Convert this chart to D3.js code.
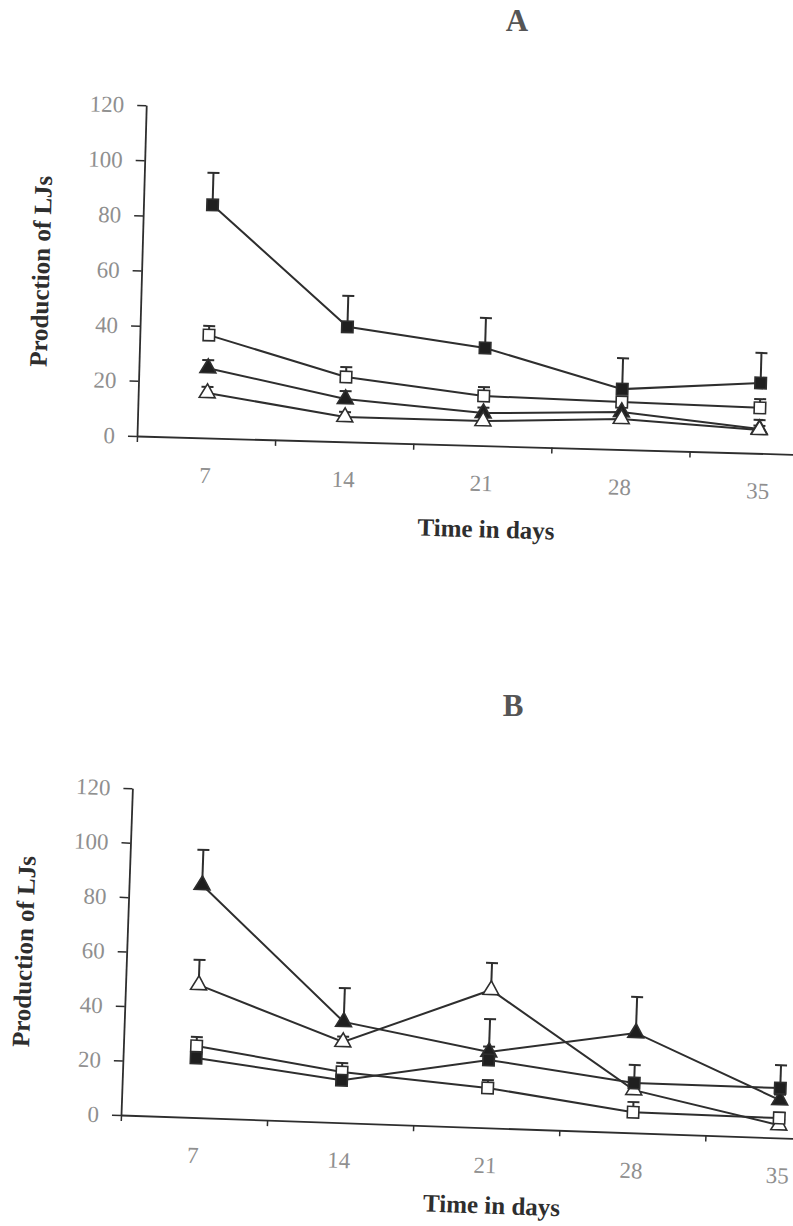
<!DOCTYPE html>
<html>
<head>
<meta charset="utf-8">
<script src="https://cdn.jsdelivr.net/npm/d3@7"></script>
<style>
  html, body { margin: 0; padding: 0; background: #ffffff; }
  svg { display: block; }
</style>
</head>
<body>
<svg id="chart" width="793" height="1226"></svg>
<script>
// ---------------- DATA ----------------
const days = [7, 14, 21, 28, 35];
const yTickValues = [0, 20, 40, 60, 80, 100, 120];

// Panel A
const aFilledSquare     = [84.5, 41.7, 35.4, 21.9, 25.5];
const aFilledSquareErr  = [11.6, 11.2, 10.9, 11.2, 10.9];
const aOpenSquare       = [37.3, 23.5, 18.0, 17.2, 16.5];
const aOpenSquareErr    = [3.3, 3.6, 3.2, 2.0, 3.2];
const aFilledTriangle   = [25.3, 15.5, 11.8, 13.6, 8.8];
const aFilledTriangleErr= [2.9, 2.9, 2.0, 2.0, 3.3];
const aOpenTriangle     = [16.3, 9.0, 8.9, 11.1, 8.5];
const aOpenTriangleErr  = [2.2, 1.8, 1.5, 1.5, 1.5];

// Panel B
const bFilledTriangle   = [85.4, 37.0, 27.8, 36.7, 13.9];
const bFilledTriangleErr= [12.9, 12.4, 2.0, 13.2, 2.0];
const bOpenTriangle     = [48.7, 29.6, 50.6, 15.7, 4.7];
const bOpenTriangleErr  = [9.2, 2.0, 9.9, 2.0, 2.0];
const bOpenSquare       = [26.3, 18.6, 14.6, 7.6, 7.3];
const bOpenSquareErr    = [3.3, 3.3, 2.9, 3.7, 2.0];
const bFilledSquare     = [21.9, 15.6, 24.9, 18.3, 18.3];
const bFilledSquareErr  = [1.5, 1.5, 15.0, 6.6, 8.4];

const panelTitles = ["A", "B"];
const xAxisTitle = "Time in days";
const yAxisTitles = ["Production of LJs", "Production of LJs"];

// ---------------- DRAW ----------------
const svg = d3.select("#chart");
svg.append("rect").attr("width", 793).attr("height", 1226).attr("fill", "#ffffff");

const ink = "#2e2e2e";
const tickInk = "#8f8f8f";
const serif = "'Liberation Serif', 'Times New Roman', serif";

function drawPanel(cfg) {
  // title (absolute)
  svg.append("text")
    .attr("x", cfg.titleX).attr("y", cfg.titleY)
    .attr("text-anchor", "middle")
    .attr("font-family", serif).attr("font-weight", "bold")
    .attr("font-size", 31).attr("fill", "#555")
    .text(cfg.title);

  const g = svg.append("g")
    .attr("transform", `translate(${cfg.ox},${cfg.oy}) rotate(${cfg.angle})`);

  const x = d3.scaleBand().domain(days).range([0, cfg.w]).padding(0);
  const xb = d3.scaleLinear().domain([3.5, 38.5]).range([0, cfg.w]);
  const y = d3.scaleLinear().domain([0, 120]).range([0, -cfg.h]);
  const cx = d => x(d) + x.bandwidth() / 2;

  // y axis
  const yAxis = g.append("g")
    .call(d3.axisLeft(y).tickValues(yTickValues).tickSize(9).tickSizeOuter(0).tickPadding(13));
  yAxis.select(".domain").attr("stroke", ink).attr("stroke-width", 1.8);
  yAxis.selectAll(".tick line").attr("stroke", ink).attr("stroke-width", 1.5);
  yAxis.selectAll(".tick text")
    .attr("font-family", serif).attr("font-size", 23).attr("fill", tickInk);

  // x axis: boundary ticks
  const xTickAxis = g.append("g")
    .call(d3.axisBottom(xb).tickValues([3.5, 10.5, 17.5, 24.5, 31.5, 38.5]).tickSize(6).tickSizeOuter(0).tickFormat(""));
  xTickAxis.select(".domain").attr("stroke", ink).attr("stroke-width", 1.8);
  xTickAxis.selectAll(".tick line").attr("stroke", ink).attr("stroke-width", 1.5);

  // x axis: category labels
  const xLab = g.append("g")
    .call(d3.axisBottom(x).tickSize(0).tickPadding(29));
  xLab.select(".domain").remove();
  xLab.selectAll(".tick text")
    .attr("font-family", serif).attr("font-size", 23).attr("fill", tickInk);

  // axis titles
  g.append("text")
    .attr("x", cfg.w / 2 + cfg.xtDx).attr("y", cfg.xtY)
    .attr("text-anchor", "middle").attr("dominant-baseline", "middle")
    .attr("font-family", serif).attr("font-weight", "bold")
    .attr("font-size", 25).attr("fill", ink)
    .text(xAxisTitle);

  g.append("text")
    .attr("transform", `translate(${cfg.ytX},${cfg.ytY}) rotate(-90)`)
    .attr("text-anchor", "middle").attr("dominant-baseline", "middle")
    .attr("font-family", serif).attr("font-weight", "bold")
    .attr("font-size", 25).attr("fill", ink)
    .text(cfg.yTitle);

  const line = d3.line().x((v, i) => cx(days[i])).y(v => y(v));

  // lines
  cfg.series.forEach(s => {
    g.append("path").datum(s.values)
      .attr("d", line).attr("fill", "none")
      .attr("stroke", ink).attr("stroke-width", 2);
  });

  // error bars (upper only)
  cfg.series.forEach(s => {
    const eb = g.append("g");
    s.values.forEach((v, i) => {
      const xx = cx(days[i]);
      eb.append("line")
        .attr("x1", xx).attr("x2", xx)
        .attr("y1", y(v)).attr("y2", y(v + s.err[i]))
        .attr("stroke", ink).attr("stroke-width", 2);
      eb.append("line")
        .attr("x1", xx - 6).attr("x2", xx + 6)
        .attr("y1", y(v + s.err[i])).attr("y2", y(v + s.err[i]))
        .attr("stroke", ink).attr("stroke-width", 2);
    });
  });

  // markers
  cfg.series.forEach(s => {
    const sym = d3.symbol().type(s.shape === "square" ? d3.symbolSquare : d3.symbolTriangle)
      .size(s.shape === "square" ? 130 : 110);
    g.append("g").selectAll("path")
      .data(s.values).join("path")
      .attr("transform", (v, i) => `translate(${cx(days[i])},${y(v)})`)
      .attr("d", sym)
      .attr("fill", s.filled ? "#1f1f1f" : "#ffffff")
      .attr("stroke", ink).attr("stroke-width", 1.6);
  });
}

drawPanel({
  title: panelTitles[0], titleX: 517, titleY: 31,
  ox: 137, oy: 436, angle: 1.6, w: 691, h: 331,
  xtDx: 6, xtY: 86, ytX: -98, ytY: -162, yTitle: yAxisTitles[0],
  series: [
    { values: aFilledSquare, err: aFilledSquareErr, shape: "square", filled: true },
    { values: aOpenSquare, err: aOpenSquareErr, shape: "square", filled: false },
    { values: aFilledTriangle, err: aFilledTriangleErr, shape: "triangle", filled: true },
    { values: aOpenTriangle, err: aOpenTriangleErr, shape: "triangle", filled: false }
  ]
});

drawPanel({
  title: panelTitles[1], titleX: 513, titleY: 716,
  ox: 121, oy: 1115, angle: 2.0, w: 731, h: 327,
  xtDx: 8, xtY: 80, ytX: -100, ytY: -160, yTitle: yAxisTitles[1],
  series: [
    { values: bFilledTriangle, err: bFilledTriangleErr, shape: "triangle", filled: true },
    { values: bOpenTriangle, err: bOpenTriangleErr, shape: "triangle", filled: false },
    { values: bOpenSquare, err: bOpenSquareErr, shape: "square", filled: false },
    { values: bFilledSquare, err: bFilledSquareErr, shape: "square", filled: true }
  ]
});
</script>
</body>
</html>
